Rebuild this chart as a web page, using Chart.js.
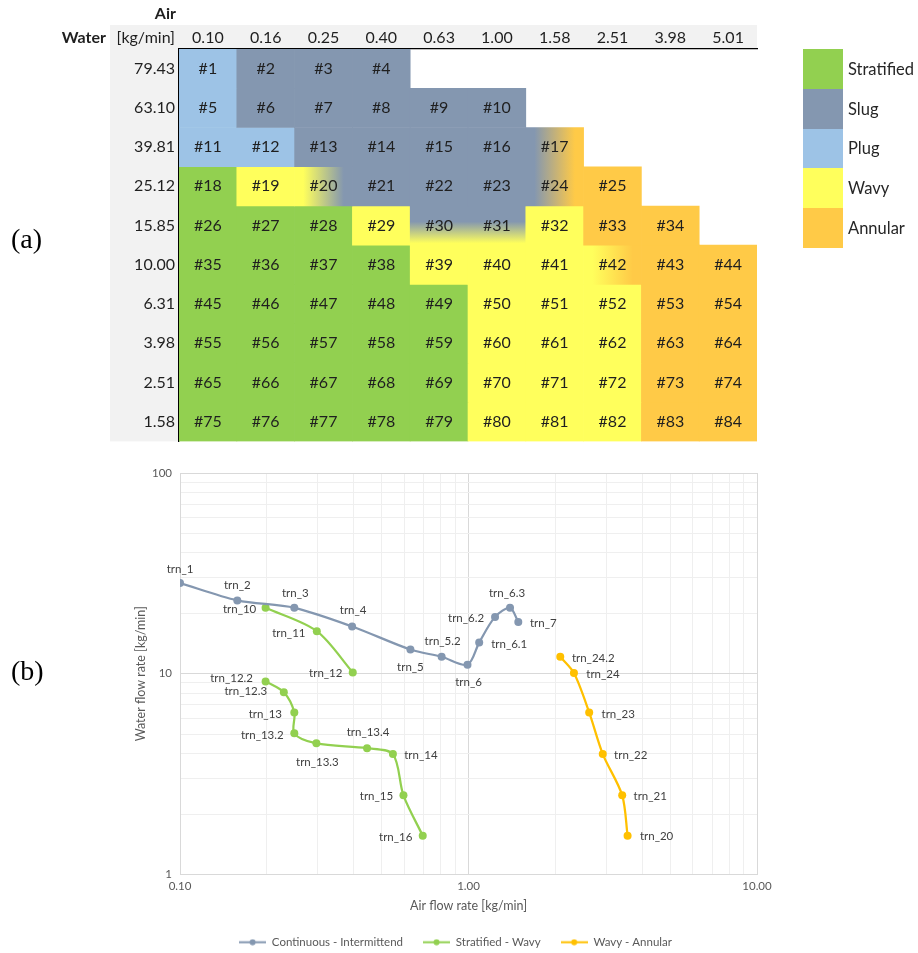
<!DOCTYPE html>
<html>
<head>
<meta charset="utf-8">
<title>Flow regime map and transitions</title>
<script src="https://cdn.jsdelivr.net/npm/chart.js@4.4.1/dist/chart.umd.min.js"></script>
<style>
  html, body { margin: 0; padding: 0; background: #fff; overflow: hidden; }
  body { font-family: Lato, 'Open Sans', sans-serif; }
  #wrap { position: relative; width: 918px; height: 953px; }
  canvas { position: absolute; left: 0; }
  #mapCanvas { top: 0; }
  #trnCanvas { top: 455px; }
  .panel { position: absolute; left: 11px; font-family: 'Liberation Serif', 'DejaVu Serif', serif;
           font-size: 28px; color: #000; line-height: 1; }
  #regimeLegend { position: absolute; left: 803px; top: 49px; }
  .leg-item { display: flex; align-items: center; height: 39.8px; }
  .leg-box { width: 40px; height: 100%; }
  .leg-text { margin-left: 5px; font-size: 16.5px; color: #262626; }
</style>
</head>
<body>
<div id="wrap">
  <canvas id="mapCanvas" width="918" height="455"></canvas>
  <canvas id="trnCanvas" width="918" height="503"></canvas>
  <div class="panel" style="top:225px">(a)</div>
  <div class="panel" style="top:657px">(b)</div>
  <div id="regimeLegend"></div>
</div>
<script>
/* ---------- Data (a): regime map ---------- */
const airRates   = ['0.10','0.16','0.25','0.40','0.63','1.00','1.58','2.51','3.98','5.01'];
const waterRates = ['79.43','63.10','39.81','25.12','15.85','10.00','6.31','3.98','2.51','1.58'];

// T stratified, S slug, P plug, W wavy, A annular
// 'S>A' = blend left -> right, 'S/W' = blend top -> bottom
const regimeRows = [
  ['P','S','S','S',null,null,null,null,null,null],
  ['P','S','S','S','S','S',null,null,null,null],
  ['P','P','S','S','S','S','S>A',null,null,null],
  ['T','W','W>S','S','S','S','S>A','A',null,null],
  ['T','T','T','W','S/W','S/W','W','A','A',null],
  ['T','T','T','T','W','W','W','W>A','A','A'],
  ['T','T','T','T','T','W','W','W','A','A'],
  ['T','T','T','T','T','W','W','W','A','A'],
  ['T','T','T','T','T','W','W','W','A','A'],
  ['T','T','T','T','T','W','W','W','A','A']
];
const regimeNames = ['Stratified','Slug','Plug','Wavy','Annular'];
const regimeCodes = ['T','S','P','W','A'];

/* ---------- Data (b): transition lines ---------- */
const ciAir   = [0.100, 0.158, 0.249, 0.395, 0.629, 0.807, 0.992, 1.089, 1.236, 1.393, 1.488];
const ciWater = [28.3, 23.2, 21.3, 17.2, 13.2, 12.15, 11.1, 14.3, 19.2, 21.3, 18.1];
const ciNames = ['trn_1','trn_2','trn_3','trn_4','trn_5','trn_5.2','trn_6','trn_6.1','trn_6.2','trn_6.3','trn_7'];

const swAir   = [0.198, 0.298, 0.397, null, 0.198, 0.229, 0.249, 0.249, 0.297, 0.445, 0.547, 0.595, 0.694];
const swWater = [21.3, 16.3, 10.15, null, 9.16, 8.09, 6.42, 5.05, 4.50, 4.26, 3.98, 2.48, 1.56];
const swNames = ['trn_10','trn_11','trn_12', null,'trn_12.2','trn_12.3','trn_13','trn_13.2','trn_13.3','trn_13.4','trn_14','trn_15','trn_16'];

const waAir   = [2.08, 2.32, 2.62, 2.92, 3.41, 3.56];
const waWater = [12.15, 10.08, 6.42, 3.98, 2.48, 1.56];
const waNames = ['trn_24.2','trn_24','trn_23','trn_22','trn_21','trn_20'];

const seriesLabels = ['Continuous - Intermittend','Stratified - Wavy','Wavy - Annular'];

/* ---------- Styles ---------- */
const COLORS = { T: '#92d050', S: '#8497b0', P: '#9dc3e6', W: '#ffff5c', A: '#ffca47' };
const seriesColors = ['#8497b0', '#92d050', '#ffc000'];
const FONT = 'Lato';

// label offsets (px) from each point
const ciOffsets = [[0,-14],[0,-15],[1,-15],[1,-16],[0,18],[1,-15],[1,18],[30,2],[-29,1],[-3,-15],[25,1]];
const swOffsets = [[-26,1],[-28,2],[-27,1],null,[-34,-3],[-38,-1],[-29,2],[-32,2],[1,19],[1,-16],[28,1],[-27,1],[-27,2]];
const waOffsets = [[33,2],[29,1],[29,2],[28,1],[28,1],[29,1]];

/* ---------- Regime legend (html) ---------- */
const legendEl = document.getElementById('regimeLegend');
regimeNames.forEach((name, i) => {
  const item = document.createElement('div');
  item.className = 'leg-item';
  const box = document.createElement('div');
  box.className = 'leg-box';
  box.style.background = COLORS[regimeCodes[i]];
  const txt = document.createElement('span');
  txt.className = 'leg-text';
  txt.textContent = name;
  item.append(box, txt);
  legendEl.appendChild(item);
});

/* ---------- (a) map chart ---------- */
function cellColor(ctx) {
  if (ctx.type !== 'data') return 'transparent';
  const code = regimeRows[ctx.datasetIndex][ctx.dataIndex];
  if (!code) return 'transparent';
  if (code.length === 1) return COLORS[code];
  const chart = ctx.chart;
  const xs = chart.scales.x, ys = chart.scales.y;
  if (!xs || !ys || !chart.chartArea) return COLORS[code[0]];
  const half = xs.width / airRates.length / 2;
  const cx = xs.getPixelForValue(ctx.dataIndex);
  const r = ctx.datasetIndex;
  const top = ys.getPixelForValue(10 - r), bottom = ys.getPixelForValue(9 - r);
  let g;
  if (code[1] === '>') {
    g = chart.ctx.createLinearGradient(cx - half, 0, cx + half, 0);
    g.addColorStop(0.15, COLORS[code[0]]);
    g.addColorStop(0.85, COLORS[code[2]]);
  } else {
    g = chart.ctx.createLinearGradient(0, top, 0, bottom);
    g.addColorStop(0.4, COLORS[code[0]]);
    g.addColorStop(0.95, COLORS[code[2]]);
  }
  return g;
}

const mapHeader = {
  id: 'mapHeader',
  beforeDraw(chart) {
    const { ctx, chartArea: a } = chart;
    ctx.save();
    ctx.fillStyle = '#f2f2f2';
    ctx.fillRect(110, 25, a.right - 110, a.top - 25);
    ctx.fillRect(110, a.top, a.left - 110, a.bottom - a.top);
    ctx.fillStyle = '#1f1f1f';
    ctx.textBaseline = 'middle';
    ctx.textAlign = 'right';
    ctx.font = `bold 16px ${FONT}`;
    ctx.fillText('Air', 176, 14);
    ctx.fillText('Water', 106, 38);
    ctx.font = `16px ${FONT}`;
    ctx.fillText('[kg/min]', 175, 38);
    ctx.restore();
  },
  afterDatasetsDraw(chart) {
    const ctx = chart.ctx;
    ctx.save();
    ctx.font = `16px ${FONT}`;
    ctx.fillStyle = '#1f1f1f';
    ctx.textAlign = 'center';
    ctx.textBaseline = 'middle';
    let n = 0;
    regimeRows.forEach((row, r) => {
      const meta = chart.getDatasetMeta(r);
      row.forEach((code, c) => {
        if (!code) return;
        n++;
        const bar = meta.data[c];
        ctx.fillText('#' + n, bar.x, (bar.y + bar.base) / 2);
      });
    });
    ctx.restore();
  }
};

new Chart(document.getElementById('mapCanvas'), {
  type: 'bar',
  data: {
    labels: airRates,
    datasets: regimeRows.map((row, r) => ({
      label: waterRates[r],
      data: row.map(code => code ? [9 - r, 10 - r] : null),
      backgroundColor: cellColor,
      borderWidth: 0,
      barPercentage: 1,
      categoryPercentage: 1,
      grouped: false
    }))
  },
  options: {
    responsive: false,
    animation: false,
    layout: { padding: { left: 0, right: 161, top: 0, bottom: 10 } },
    plugins: { legend: { display: false }, tooltip: { enabled: false } },
    scales: {
      x: {
        position: 'top',
        grid: { display: false, drawTicks: false },
        border: { display: true, color: '#000', width: 1.3 },
        ticks: { font: { family: FONT, size: 16 }, color: '#1f1f1f', padding: 2, maxRotation: 0 },
        afterFit: a => { a.height = 49; }
      },
      y: {
        min: 0, max: 10,
        grid: { display: false, drawTicks: false },
        border: { display: true, color: '#000', width: 1.3 },
        afterBuildTicks: a => { a.ticks = waterRates.map((w, i) => ({ value: 9.5 - i })); },
        ticks: {
          callback: v => waterRates[Math.round(9.5 - v)],
          font: { family: FONT, size: 16 }, color: '#1f1f1f', padding: 4
        },
        afterFit: a => { a.width = 179; }
      }
    }
  },
  plugins: [mapHeader]
});

/* ---------- (b) transitions chart ---------- */
const isMajor = v => Math.abs(Math.log10(v) - Math.round(Math.log10(v))) < 1e-6;
const logTicks = (lo, hi) => {
  const t = [];
  for (let e = lo; e < hi; e++) for (let m = 1; m <= 9; m++) t.push({ value: +(m * Math.pow(10, e)).toFixed(4) });
  t.push({ value: Math.pow(10, hi) });
  return t;
};
const gridColor = c => isMajor(c.tick.value) ? '#d9d9d9' : '#efefef';

function series(label, xs, ys, color) {
  return {
    label,
    data: xs.map((x, i) => ({ x, y: ys[i] })),
    borderColor: color,
    backgroundColor: color,
    borderWidth: 2.25,
    pointRadius: 4,
    pointHoverRadius: 4,
    pointBorderWidth: 0,
    tension: 0.3,
    spanGaps: false
  };
}

function legendMarker(color) {
  const c = document.createElement('canvas');
  c.width = 27; c.height = 7;
  const g = c.getContext('2d');
  g.strokeStyle = color; g.lineWidth = 2;
  g.beginPath(); g.moveTo(0, 3.5); g.lineTo(27, 3.5); g.stroke();
  g.fillStyle = color;
  g.beginPath(); g.arc(13.5, 3.5, 3, 0, Math.PI * 2); g.fill();
  return c;
}

const trnNames = [ciNames, swNames, waNames];
const trnOffsets = [ciOffsets, swOffsets, waOffsets];

const pointLabels = {
  id: 'pointLabels',
  afterLayout(chart) {
    // excel centres the legend on the whole chart, nudge it right
    chart.legend.left += 14;
    chart.legend.right += 14;
  },
  afterDatasetsDraw(chart) {
    const ctx = chart.ctx;
    ctx.save();
    ctx.font = `11.5px ${FONT}`;
    ctx.fillStyle = '#404040';
    ctx.textAlign = 'center';
    ctx.textBaseline = 'middle';
    trnNames.forEach((names, d) => {
      const meta = chart.getDatasetMeta(d);
      names.forEach((name, i) => {
        if (!name) return;
        const pt = meta.data[i];
        const off = trnOffsets[d][i];
        ctx.fillText(name, pt.x + off[0], pt.y + off[1]);
      });
    });
    ctx.restore();
  }
};

new Chart(document.getElementById('trnCanvas'), {
  type: 'line',
  data: {
    datasets: [
      series(seriesLabels[0], ciAir, ciWater, seriesColors[0]),
      series(seriesLabels[1], swAir, swWater, seriesColors[1]),
      series(seriesLabels[2], waAir, waWater, seriesColors[2])
    ]
  },
  options: {
    responsive: false,
    animation: false,
    layout: { padding: { left: 126, right: 161, top: 18, bottom: 0 } },
    plugins: {
      tooltip: { enabled: false },
      legend: {
        position: 'bottom',
        labels: {
          usePointStyle: true,
          pointStyleWidth: 27,
          padding: 20,
          color: '#595959',
          font: { family: FONT, size: 11.5 },
          generateLabels: chart => Chart.defaults.plugins.legend.labels.generateLabels(chart)
            .map((item, i) => Object.assign(item, { pointStyle: legendMarker(seriesColors[i]) }))
        }
      }
    },
    scales: {
      x: {
        type: 'logarithmic',
        min: 0.1, max: 10,
        afterBuildTicks: a => { a.ticks = logTicks(-1, 1); },
        grid: { color: gridColor, drawTicks: false },
        border: { color: '#d9d9d9' },
        ticks: {
          autoSkip: false, maxRotation: 0, padding: 5,
          callback: v => isMajor(v) ? v.toFixed(2) : '',
          color: '#595959', font: { family: FONT, size: 11.5 }
        },
        title: { display: true, text: 'Air flow rate [kg/min]', color: '#595959',
                 font: { family: FONT, size: 12.5 }, padding: { top: 0, bottom: 3 } },
        afterFit: a => { a.height = 42; }
      },
      y: {
        type: 'logarithmic',
        min: 1, max: 100,
        afterBuildTicks: a => { a.ticks = logTicks(0, 2); },
        grid: { color: gridColor, drawTicks: false },
        border: { color: '#d9d9d9' },
        ticks: {
          autoSkip: false, padding: 8,
          callback: v => isMajor(v) ? String(v) : '',
          color: '#595959', font: { family: FONT, size: 11.5 }
        },
        title: { display: true, text: 'Water flow rate [kg/min]', color: '#595959',
                 font: { family: FONT, size: 12.5 }, padding: { top: 7, bottom: 0 } },
        afterFit: a => { a.width = 54; }
      }
    }
  },
  plugins: [pointLabels]
});
</script>
</body>
</html>
